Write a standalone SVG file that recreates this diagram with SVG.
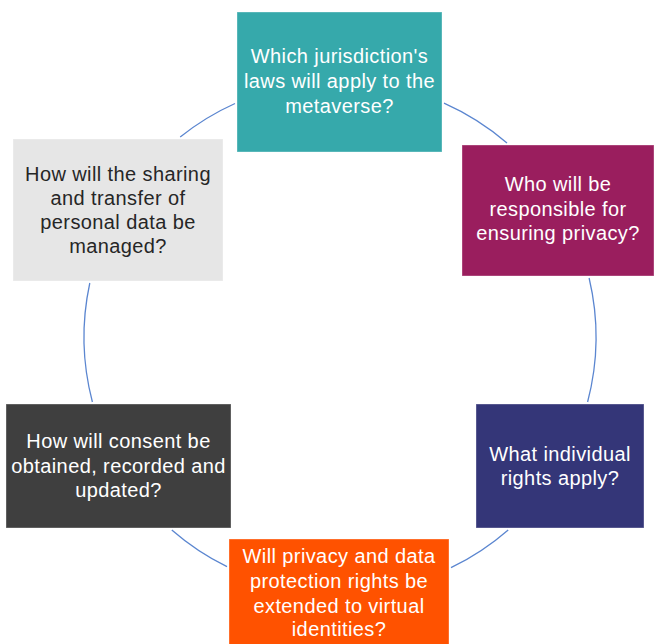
<svg xmlns="http://www.w3.org/2000/svg" width="654" height="644" viewBox="0 0 654 644">
  <style>
    .box { stroke: #ffffff; stroke-opacity: 0.35; stroke-width: 1; }
    .lbl { font-family: "Liberation Sans", Arial, sans-serif; font-size: 20px; letter-spacing: 0.4px; text-anchor: middle; fill: #ffffff; }
    .lbl.dark { fill: #262626; }
    .ring { fill: none; stroke: #5B86D0; stroke-width: 1.3; }
  </style>
  <rect width="654" height="644" fill="#ffffff"/>

  <!-- circular cycle connecting the six questions -->
  <g id="connectors">
    <path class="ring" d="M444,103.1 A256,256 0 0 1 507,143"/>
    <path class="ring" d="M589.1,278 A256,256 0 0 1 587.6,402"/>
    <path class="ring" d="M508.2,530 A256,256 0 0 1 451,567.7"/>
    <path class="ring" d="M227,566.7 A256,256 0 0 1 171.8,530"/>
    <path class="ring" d="M92.4,402 A256,256 0 0 1 89.8,283"/>
    <path class="ring" d="M180.2,137 A256,256 0 0 1 235,103.5"/>
  </g>

  <g id="jurisdiction">
    <rect class="box" x="237" y="12" width="205" height="140" fill="#36A9AB"/>
    <text class="lbl" x="339.5" y="63">Which jurisdiction's</text>
    <text class="lbl" x="339.5" y="88">laws will apply to the</text>
    <text class="lbl" x="339.5" y="113">metaverse?</text>
  </g>

  <g id="responsibility">
    <rect class="box" x="462" y="145" width="192" height="131" fill="#9A1E5E"/>
    <text class="lbl" x="558" y="191">Who will be</text>
    <text class="lbl" x="558" y="216">responsible for</text>
    <text class="lbl" x="558" y="240">ensuring privacy?</text>
  </g>

  <g id="rights">
    <rect class="box" x="476" y="404" width="168" height="124" fill="#343678"/>
    <text class="lbl" x="560" y="461">What individual</text>
    <text class="lbl" x="560" y="485">rights apply?</text>
  </g>

  <g id="virtual-identities">
    <rect class="box" x="229" y="539" width="220" height="110" fill="#FF5200"/>
    <text class="lbl" x="339" y="563">Will privacy and data</text>
    <text class="lbl" x="339" y="588">protection rights be</text>
    <text class="lbl" x="339" y="613">extended to virtual</text>
    <text class="lbl" x="339" y="636">identities?</text>
  </g>

  <g id="consent">
    <rect class="box" x="6" y="404" width="225" height="124" fill="#3F3F3F"/>
    <text class="lbl" x="118.5" y="448">How will consent be</text>
    <text class="lbl" x="118.5" y="473">obtained, recorded and</text>
    <text class="lbl" x="118.5" y="497">updated?</text>
  </g>

  <g id="data-sharing">
    <rect class="box" x="13" y="139" width="210" height="142" fill="#E6E6E6"/>
    <text class="lbl dark" x="118" y="181">How will the sharing</text>
    <text class="lbl dark" x="118" y="205">and transfer of</text>
    <text class="lbl dark" x="118" y="229">personal data be</text>
    <text class="lbl dark" x="118" y="253">managed?</text>
  </g>
</svg>
